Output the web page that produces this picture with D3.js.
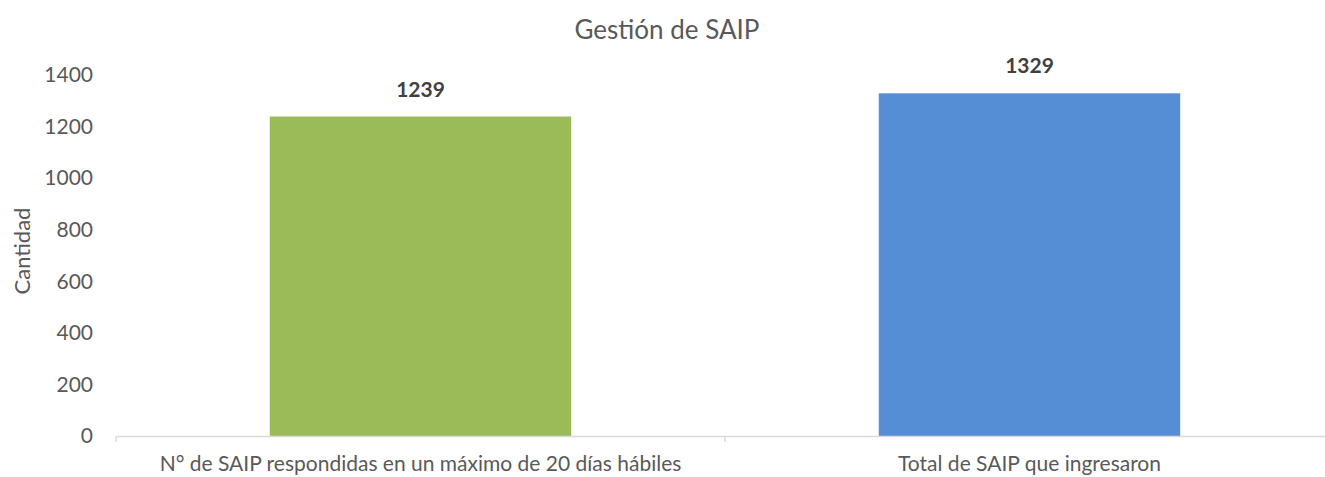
<!DOCTYPE html>
<html>
<head>
<meta charset="utf-8">
<script src="https://cdn.jsdelivr.net/npm/d3@7"></script>
<style>
  body { margin: 0; background: #fff; }
  text { font-family: Lato, "Open Sans", sans-serif; fill: #595959; }
</style>
</head>
<body>
<div id="chart"></div>
<script>
const categories = ["N° de SAIP respondidas en un máximo de 20 días hábiles", "Total de SAIP que ingresaron"]
const values = [1239, 1329]
const colors = ["#9bbb59", "#558ed5"]
const yTicks = [0, 200, 400, 600, 800, 1000, 1200, 1400]

const W = 1325, H = 477
const MARGIN = { LEFT: 116, RIGHT: -9, TOP: 75, BOTTOM: 41 }
const WIDTH = W - MARGIN.LEFT - MARGIN.RIGHT
const HEIGHT = H - MARGIN.TOP - MARGIN.BOTTOM

const svg = d3.select("#chart").append("svg")
    .attr("width", W)
    .attr("height", H)

const g = svg.append("g")
    .attr("transform", `translate(${MARGIN.LEFT}, ${MARGIN.TOP})`)

// Scales
const x = d3.scaleBand()
    .domain(categories)
    .range([0, WIDTH])
    .paddingInner(0.505)
    .paddingOuter(0.2525)

const y = d3.scaleLinear()
    .domain([0, 1400])
    .range([HEIGHT, 0])

// Title
svg.append("text")
    .attr("x", 667)
    .attr("y", 39)
    .attr("text-anchor", "middle")
    .attr("font-size", "26px")
    .text("Gestión de SAIP")

// Y label
svg.append("text")
    .attr("transform", "rotate(-90)")
    .attr("x", -251)
    .attr("y", 30)
    .attr("text-anchor", "middle")
    .attr("font-size", "22px")
    .text("Cantidad")

// Y axis (labels only)
const yAxis = g.append("g")
    .call(d3.axisLeft(y).tickValues(yTicks).tickFormat(d3.format("d")).tickSize(0).tickPadding(23))
yAxis.select(".domain").remove()
yAxis.selectAll("text")
    .attr("font-size", "21px")
    .style("font-family", "Lato, 'Open Sans', sans-serif")
    .attr("fill", "#595959")

// Bars
g.selectAll("rect.bar")
    .data(values)
    .enter().append("rect")
    .attr("class", "bar")
    .attr("x", (d, i) => x(categories[i]))
    .attr("width", x.bandwidth())
    .attr("y", d => y(d))
    .attr("height", d => HEIGHT - y(d))
    .attr("fill", (d, i) => colors[i])

// Value labels
g.selectAll("text.val")
    .data(values)
    .enter().append("text")
    .attr("class", "val")
    .attr("x", (d, i) => x(categories[i]) + x.bandwidth() / 2)
    .attr("y", d => y(d) - 20)
    .attr("text-anchor", "middle")
    .attr("font-size", "21px")
    .attr("font-weight", "bold")
    .style("fill", "#404040")
    .text(d => d)

// X axis
const xAxis = g.append("g")
    .attr("transform", `translate(0, ${HEIGHT})`)
    .call(d3.axisBottom(x).tickSize(0).tickPadding(20))
xAxis.select(".domain").attr("stroke", "#d9d9d9").attr("stroke-width", 1.5)
xAxis.selectAll("text")
    .attr("font-size", "21px")
    .style("font-family", "Lato, 'Open Sans', sans-serif")
    .attr("fill", "#595959")

// category separators
const step = x.step()
g.selectAll("line.sep")
    .data([0, 1, 2])
    .enter().append("line")
    .attr("class", "sep")
    .attr("x1", d => d * step)
    .attr("x2", d => d * step)
    .attr("y1", HEIGHT)
    .attr("y2", HEIGHT + 6)
    .attr("stroke", "#d9d9d9")
    .attr("stroke-width", 1.5)
</script>
</body>
</html>
